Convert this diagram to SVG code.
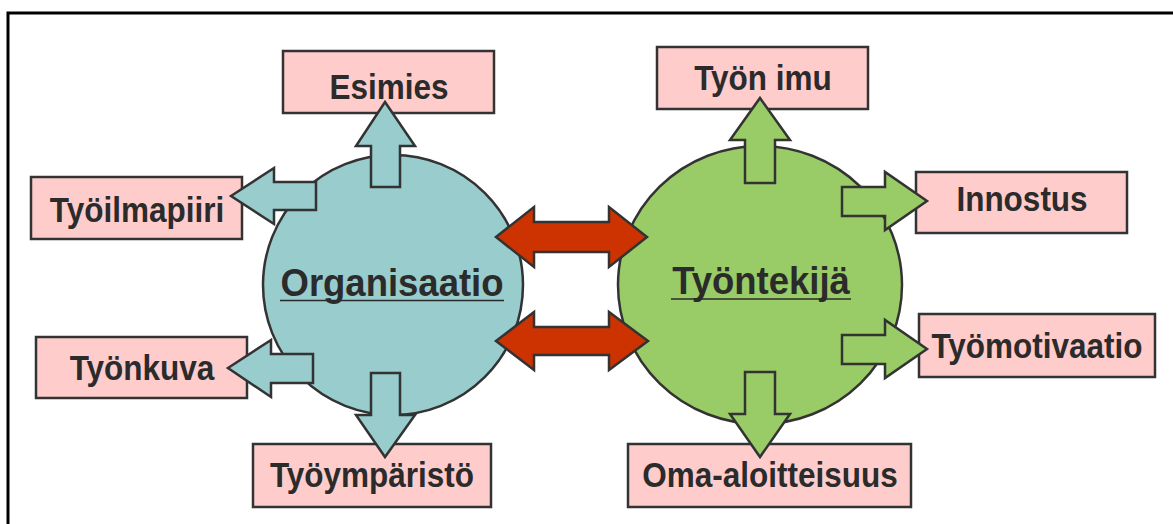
<svg xmlns="http://www.w3.org/2000/svg" width="1173" height="524" viewBox="0 0 1173 524">
<style>
.box{fill:#FFCCCC;stroke:#333333;stroke-width:2.5}
.lbl{font-family:"Liberation Sans",Arial,sans-serif;font-weight:bold;font-size:31.5px;fill:#2b2b2b;text-anchor:middle}
.big{font-family:"Liberation Sans",Arial,sans-serif;font-weight:bold;font-size:36.5px;fill:#2b2b2b;text-anchor:middle}
.ul{stroke:#2b2b2b;stroke-width:1.6}
.circ{stroke:#333333;stroke-width:2.5}
.ab{fill:#99CCCC;stroke:#333333;stroke-width:2.5;stroke-linejoin:miter}
.ag{fill:#99CC66;stroke:#333333;stroke-width:2.5;stroke-linejoin:miter}
.ar{fill:#CC3300;stroke:#333333;stroke-width:2.5;stroke-linejoin:miter}
</style>
<rect width="1173" height="524" fill="#ffffff"/>
<rect x="8" y="13" width="1185" height="540" fill="none" stroke="#000000" stroke-width="3"/>
<g id="organisaatio">
<circle class="circ" cx="393" cy="285" r="130" fill="#99CCCC"/>
<text class="big" transform="translate(392,296) scale(1,1.04)">Organisaatio</text>
<line class="ul" x1="280" y1="300.5" x2="504" y2="300.5"/>
</g>
<g id="tyontekija">
<ellipse class="circ" cx="760" cy="285" rx="142" ry="139" fill="#99CC66"/>
<text class="big" transform="translate(761,294) scale(1,1.04)">Työntekijä</text>
<line class="ul" x1="671" y1="299" x2="851" y2="299"/>
</g>
<g id="esimies"><rect class="box" x="283" y="51" width="211" height="62"/><text class="lbl" transform="translate(389,99) scale(1,1.1)">Esimies</text></g>
<g id="tyoilmapiiri"><rect class="box" x="31" y="177" width="211" height="62"/><text class="lbl" transform="translate(137,222) scale(1,1.1)">Työilmapiiri</text></g>
<g id="tyonkuva"><rect class="box" x="36" y="337" width="211" height="61"/><text class="lbl" transform="translate(142,380) scale(1,1.1)">Työnkuva</text></g>
<g id="tyoymparisto"><rect class="box" x="253" y="444" width="238" height="63"/><text class="lbl" transform="translate(372,487) scale(1,1.1)">Työympäristö</text></g>
<g id="tyonimu"><rect class="box" x="657" y="47" width="211" height="62"/><text class="lbl" transform="translate(763,90) scale(1,1.1)">Työn imu</text></g>
<g id="innostus"><rect class="box" x="916" y="172" width="211" height="61"/><text class="lbl" transform="translate(1022,211) scale(1,1.1)">Innostus</text></g>
<g id="tyomotivaatio"><rect class="box" x="919" y="314" width="236" height="63"/><text class="lbl" transform="translate(1037,358) scale(1,1.1)">Työmotivaatio</text></g>
<g id="omaaloitteisuus"><rect class="box" x="628" y="444" width="283" height="63"/><text class="lbl" transform="translate(770,487) scale(1,1.1)">Oma-aloitteisuus</text></g>
<g id="connectors">
<polygon class="ab" points="385,102 415,146 400,146 400,187 371,187 371,146 356,146"/>
<polygon class="ab" points="231,196 274,168 274,182 316,182 316,210 274,210 274,224"/>
<polygon class="ab" points="228,368 271,340 271,354 313,354 313,383 271,383 271,397"/>
<polygon class="ab" points="371,373 400,373 400,415 415,415 385,457 356,415 371,415"/>
<polygon class="ag" points="760,98 790,140 775,140 775,183 745,183 745,140 730,140"/>
<polygon class="ag" points="842,187 885,187 885,172 927,201 885,230 885,216 842,216"/>
<polygon class="ag" points="842,335 885,335 885,320 927,349 885,378 885,364 842,364"/>
<polygon class="ag" points="745,372 775,372 775,414 790,414 760,457 730,414 745,414"/>
<polygon class="ar" points="496,237 534,207 534,222 609,222 609,207 647,237 609,267 609,252 534,252 534,267"/>
<polygon class="ar" points="496,341 534,312 534,327 609,327 609,312 648,341 609,370 609,355 534,355 534,370"/>
</g>
</svg>
